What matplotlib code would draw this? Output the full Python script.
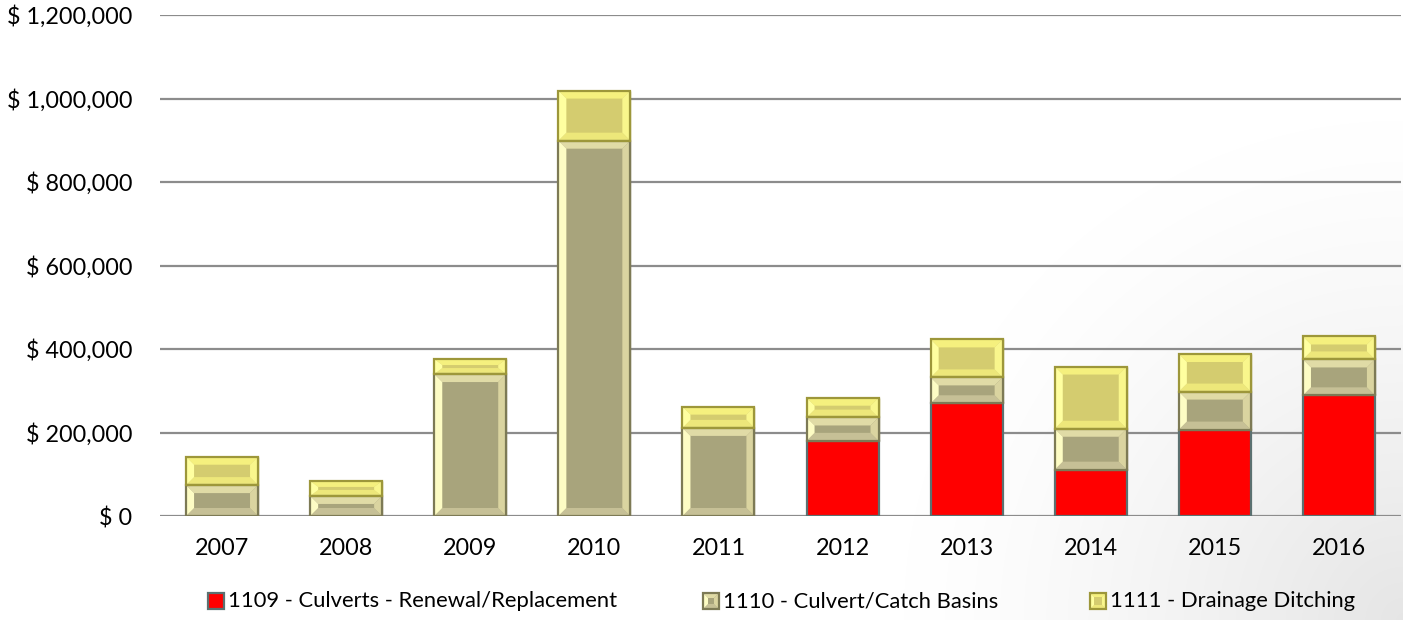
import numpy as np
import matplotlib
matplotlib.use("Agg")
import matplotlib.pyplot as plt
from matplotlib.patches import Polygon, Rectangle
from matplotlib.ticker import FuncFormatter

plt.rcParams['font.family'] = ['Lato', 'DejaVu Sans']

years = ['2007', '2008', '2009', '2010', '2011', '2012', '2013', '2014', '2015', '2016']
culverts_renewal = [0, 0, 0, 0, 0, 180000, 270000, 111000, 207000, 289000]
catch_basins = [74000, 48000, 340000, 899000, 211000, 56000, 62000, 98000, 91000, 86000]
ditching = [68000, 36000, 36000, 120000, 51000, 47000, 91000, 149000, 90000, 55000]
series_names = ['1109 - Culverts - Renewal/Replacement',
                '1110 - Culvert/Catch Basins',
                '1111 - Drainage Ditching']

W, H, DPI = 1403, 620, 100
L, R, B, T = 160, 1401, 516, 15
YMAX = 1200000
FS = 16.8
FS_LEG = 15.8

# bevel shades: inner, top, left, right, bottom, edge
tan_style = ['#a8a47c', '#e0dba6', '#fdfcc4', '#dad4a0', '#c6c096', '#7d7a55']
yel_style = ['#d4cc6f', '#f5f07e', '#ffffa0', '#f9f68c', '#ede77a', '#9d973a']
red_face, red_edge = '#ff0000', '#5b7171'


def bevel(ax, x0, x1, y0, y1, bx, by, style, transform=None, z=3):
    inner, top, left, right, bot, edge = style
    tr = transform if transform is not None else ax.transData
    pieces = [
        ([(x0, y1), (x1, y1), (x1 - bx, y1 - by), (x0 + bx, y1 - by)], top),
        ([(x0, y0), (x1, y0), (x1 - bx, y0 + by), (x0 + bx, y0 + by)], bot),
        ([(x0, y0), (x0, y1), (x0 + bx, y1 - by), (x0 + bx, y0 + by)], left),
        ([(x1, y0), (x1, y1), (x1 - bx, y1 - by), (x1 - bx, y0 + by)], right),
    ]
    ax.add_patch(Rectangle((x0, y0), x1 - x0, y1 - y0, facecolor=inner,
                           edgecolor='none', transform=tr, zorder=z))
    for pts, c in pieces:
        ax.add_patch(Polygon(pts, closed=True, facecolor=c, edgecolor='none',
                             transform=tr, zorder=z + 0.1))
    ax.add_patch(Rectangle((x0, y0), x1 - x0, y1 - y0, fill=False,
                           edgecolor=edge, linewidth=1.6, transform=tr, zorder=z + 0.2))


fig = plt.figure(figsize=(W / DPI, H / DPI), dpi=DPI)

# soft grey shading towards the lower right corner
bg = fig.add_axes([0, 0, 1, 1], zorder=-5)
gx, gy = np.meshgrid(np.arange(W), np.arange(H))
d = np.hypot(W - gx, H - gy) / 500.0
shade = 1 - 0.10 * np.clip(1 - d, 0, 1) ** 1.3
bg.imshow(np.dstack([shade] * 3), extent=[0, W, H, 0], aspect='auto')
bg.axis('off')

ax = fig.add_axes([L / W, 1 - B / H, (R - L) / W, (B - T) / H])
ax.set_facecolor('none')
x = np.arange(len(years))
width = 0.58
ax.set_xlim(-0.5, len(years) - 0.5)
ax.set_ylim(0, YMAX)

# pixel -> data units for the bevel
px_x = 1.0 / ((R - L) / len(years))
px_y = YMAX / (B - T)

bot2 = np.array(culverts_renewal)
bot3 = bot2 + np.array(catch_basins)

ax.bar(x, culverts_renewal, width, color=red_face, edgecolor=red_edge,
       linewidth=1.6, zorder=3)
b2 = ax.bar(x, catch_basins, width, bottom=bot2, color=tan_style[0],
            edgecolor=tan_style[5], zorder=2)
b3 = ax.bar(x, ditching, width, bottom=bot3, color=yel_style[0],
            edgecolor=yel_style[5], zorder=2)

for bars, style in ((b2, tan_style), (b3, yel_style)):
    for p in bars:
        x0, y0 = p.get_x(), p.get_y()
        x1, y1 = x0 + p.get_width(), y0 + p.get_height()
        hpx = p.get_height() / px_y
        bx = 8 * px_x
        by = min(8.0, hpx * 0.4) * px_y
        bevel(ax, x0, x1, y0, y1, bx, by, style)

ax.set_yticks(np.arange(0, YMAX + 1, 200000))
ax.yaxis.set_major_formatter(FuncFormatter(lambda v, p: '$ {:,.0f}'.format(v)))
ax.set_xticks(x)
ax.set_xticklabels(years)
ax.tick_params(axis='y', length=0, pad=20, labelsize=FS)
ax.tick_params(axis='x', length=0, pad=16, labelsize=FS)
ax.grid(axis='y', color='#8c8c8c', linewidth=1.6, zorder=0)
ax.set_axisbelow(True)
for s in ax.spines.values():
    s.set_visible(False)

# legend, drawn in figure pixels
lg = fig.add_axes([0, 0, 1, 1], zorder=5)
lg.set_xlim(0, W)
lg.set_ylim(H, 0)
lg.axis('off')
lx = [208, 703, 1090]
ly0, ly1 = 593, 609
lg.add_patch(Rectangle((lx[0], ly0), 16, 16, facecolor=red_face,
                       edgecolor=red_edge, linewidth=1.6, zorder=3))
bevel(lg, lx[1], lx[1] + 16, ly1, ly0, 5, -5, tan_style, transform=lg.transData)
bevel(lg, lx[2], lx[2] + 16, ly1, ly0, 4, -4, yel_style, transform=lg.transData)
for xx, name in zip(lx, series_names):
    lg.text(xx + 20, 601, name, fontsize=FS_LEG, va='center', ha='left')

fig.savefig('out.png', dpi=DPI)
